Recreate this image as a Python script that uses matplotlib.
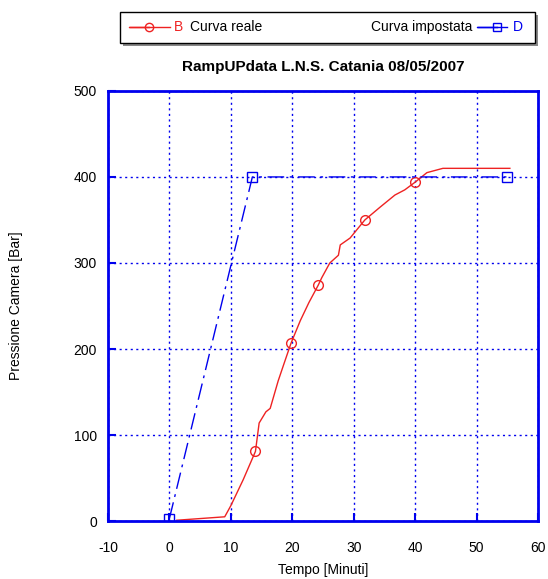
import numpy as np
import matplotlib.pyplot as plt
from matplotlib.lines import Line2D
from matplotlib.patches import Rectangle

plt.rcParams['font.family'] = ['Liberation Sans', 'DejaVu Sans']
plt.rcParams['axes.unicode_minus'] = False

# ── Data ──────────────────────────────────────────────────────
# Curva reale (measured)
t_reale = [1.2, 9.0, 10.0, 12.0, 14.0, 14.6, 15.7, 16.4, 17.7, 18.6, 19.8,
           21.3, 22.7, 24.2, 24.8, 26.1, 27.5, 27.8, 29.4, 31.8, 34.3,
           36.7, 38.3, 40.0, 41.9, 44.5, 55.4]
p_reale = [1, 5, 18, 48, 81, 114, 127, 131, 163, 182, 207,
           233, 254, 274, 283, 300, 309, 321, 329, 350, 365,
           379, 385, 394, 405, 410, 410]
reale_markers = [4, 10, 13, 19, 23]

# Curva impostata (set point)
t_imp = [0, 13.5, 55]
p_imp = [3, 400, 400]

x_ticks = [-10, 0, 10, 20, 30, 40, 50, 60]
y_ticks = [0, 100, 200, 300, 400, 500]

blue = '#0000ee'
red = '#ee2222'

# ── Figure ────────────────────────────────────────────────────
fig = plt.figure(figsize=(5.48, 5.79), dpi=100)
ax = fig.add_axes([0.197, 0.100, 0.785, 0.743])

ax.plot(t_reale, p_reale, color=red, lw=1, marker='o', markersize=7,
        markerfacecolor='none', markeredgecolor=red, markevery=reale_markers)
ax.plot(t_imp, p_imp, color=blue, lw=1, dashes=[12, 4, 2, 4], marker='s',
        markersize=7, markerfacecolor='none', markeredgecolor=blue)

ax.set_xlim(-10, 60)
ax.set_ylim(0, 500)
ax.set_xticks(x_ticks)
ax.set_yticks(y_ticks)
ax.grid(True, color=blue, linestyle=(0, (1.5, 2.5)), linewidth=1)
ax.tick_params(direction='in', color=blue, width=1.5, length=6,
               labelsize=10, top=False, right=False)
ax.tick_params(axis='x', pad=14)
ax.tick_params(axis='y', pad=8)
for s in ax.spines.values():
    s.set_color(blue)
    s.set_linewidth(2)

ax.set_xlabel('Tempo [Minuti]', fontsize=10)
ax.xaxis.set_label_coords(0.5, -0.098)
ax.set_ylabel('Pressione Camera [Bar]', fontsize=10, labelpad=36)
ax.set_title('RampUPdata L.N.S. Catania 08/05/2007', fontsize=11,
             fontweight='bold', pad=14)

# ── Legend box ────────────────────────────────────────────────
W, H = 548, 579
def fx(px): return px / W
def fy(py): return 1 - py / H

fig.patches.append(Rectangle((fx(123), fy(46)), fx(415), 31 / H,
                             transform=fig.transFigure, facecolor='#888888',
                             edgecolor='none', zorder=1))
fig.patches.append(Rectangle((fx(120), fy(43)), fx(415), 31 / H,
                             transform=fig.transFigure, facecolor='white',
                             edgecolor='black', lw=1, zorder=2))

ly = fy(27)
fig.lines.append(Line2D([fx(149), fx(129), fx(170)], [ly, ly, ly], color=red,
                        lw=1, marker='o', markersize=6, markerfacecolor='none',
                        markevery=[0], transform=fig.transFigure, zorder=3))
fig.text(fx(174), ly, 'B', color=red, fontsize=10, va='center', zorder=4)
fig.text(fx(190), ly, 'Curva reale', fontsize=10, va='center', zorder=4)

fig.text(fx(472), ly, 'Curva impostata', fontsize=10, va='center',
         ha='right', zorder=4)
fig.lines.append(Line2D([fx(497), fx(477), fx(507)], [ly, ly, ly],
                        color=blue, lw=1, marker='s', markersize=6,
                        markerfacecolor='none', markevery=[0],
                        transform=fig.transFigure, zorder=3))
fig.text(fx(513), ly, 'D', color=blue, fontsize=10, va='center', zorder=4)

plt.savefig('out.png', dpi=100)
